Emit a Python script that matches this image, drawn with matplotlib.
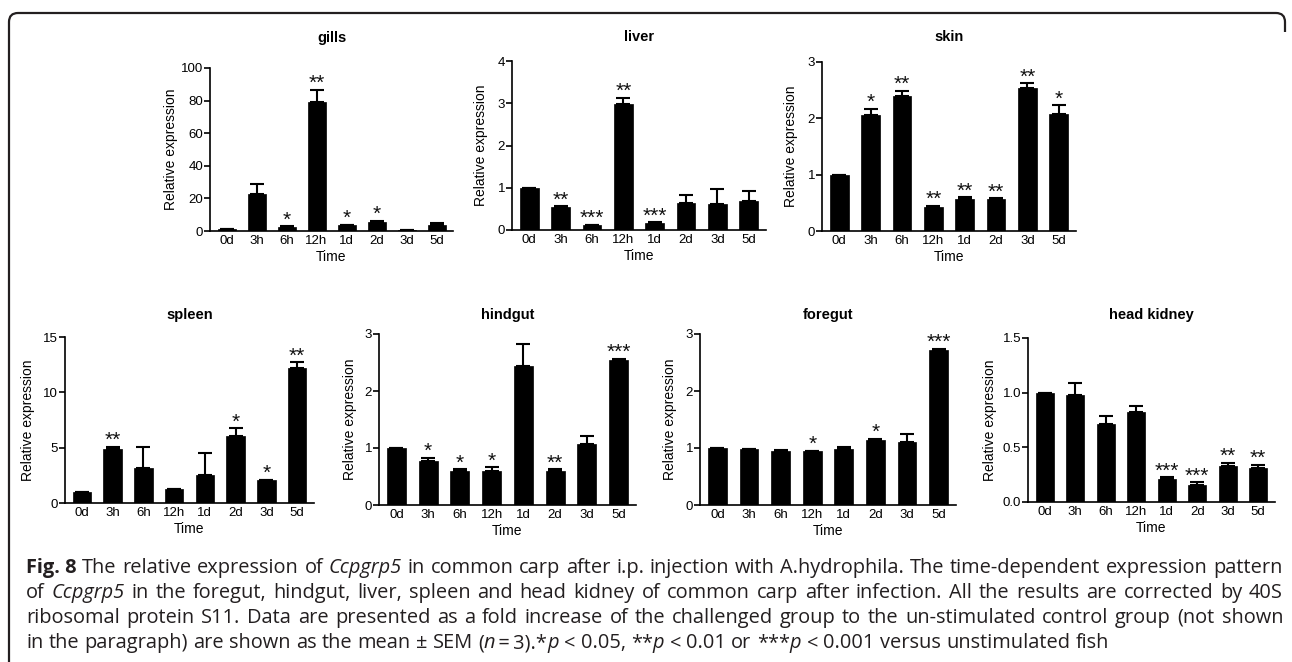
import matplotlib
matplotlib.use("Agg")
import matplotlib.pyplot as plt
from matplotlib import font_manager
from matplotlib.path import Path
from matplotlib.patches import PathPatch
from matplotlib.transforms import IdentityTransform

W, H, DPI = 1292, 662, 100

# ---------------- data ----------------
time_labels = ["0d", "3h", "6h", "12h", "1d", "2d", "3d", "5d"]

gills_mean = [1.0, 22.5, 2.7, 79.3, 3.5, 5.7, 0.6, 3.7]
gills_sem = [0.0, 6.2, 0.3, 7.2, 0.2, 0.6, 0.0, 1.0]
gills_sig = ["", "", "*", "**", "*", "*", "", ""]
gills_ticks = [0, 20, 40, 60, 80, 100]

liver_mean = [1.0, 0.54, 0.11, 2.98, 0.16, 0.64, 0.61, 0.69]
liver_sem = [0.0, 0.02, 0.01, 0.15, 0.02, 0.19, 0.37, 0.24]
liver_sig = ["", "**", "***", "**", "***", "", "", ""]
liver_ticks = [0, 1, 2, 3, 4]

skin_mean = [1.0, 2.06, 2.40, 0.43, 0.57, 0.56, 2.53, 2.07]
skin_sem = [0.0, 0.11, 0.09, 0.02, 0.03, 0.02, 0.09, 0.16]
skin_sig = ["", "*", "**", "**", "**", "**", "**", "*"]
skin_ticks = [0, 1, 2, 3]

spleen_mean = [1.0, 4.87, 3.18, 1.24, 2.50, 6.05, 2.06, 12.19]
spleen_sem = [0.0, 0.21, 1.90, 0.06, 1.98, 0.69, 0.06, 0.54]
spleen_sig = ["", "**", "", "", "", "*", "*", "**"]
spleen_ticks = [0, 5, 10, 15]

hindgut_mean = [1.0, 0.78, 0.59, 0.59, 2.44, 0.60, 1.07, 2.55]
hindgut_sem = [0.0, 0.05, 0.04, 0.07, 0.39, 0.03, 0.14, 0.02]
hindgut_sig = ["", "*", "*", "*", "", "**", "", "***"]
hindgut_ticks = [0, 1, 2, 3]

foregut_mean = [1.0, 0.98, 0.95, 0.94, 0.99, 1.14, 1.11, 2.72]
foregut_sem = [0.0, 0.0, 0.01, 0.01, 0.02, 0.02, 0.13, 0.02]
foregut_sig = ["", "", "", "*", "", "*", "", "***"]
foregut_ticks = [0, 1, 2, 3]

kidney_mean = [1.0, 0.98, 0.71, 0.82, 0.21, 0.16, 0.33, 0.31]
kidney_sem = [0.0, 0.11, 0.08, 0.055, 0.015, 0.02, 0.03, 0.03]
kidney_sig = ["", "", "", "", "***", "***", "**", "**"]
kidney_ticks = [0.0, 0.5, 1.0, 1.5]

panel_titles = ["gills", "liver", "skin", "spleen", "hindgut", "foregut", "head kidney"]

# ---------------- fonts ----------------
avail = {f.name for f in font_manager.fontManager.ttflist}
AX_FONT = "Liberation Sans Narrow" if "Liberation Sans Narrow" in avail else "Liberation Sans"
CAP_FONT = "Open Sans" if "Open Sans" in avail else "DejaVu Sans"

fig = plt.figure(figsize=(W / DPI, H / DPI), dpi=DPI)
fig.patch.set_facecolor("white")

# pixel boxes: left, right, top, bottom, ylabel offset, title y
boxes = [
    (210, 453, 68, 231, 32, 38),
    (512, 766, 61, 230, 24, 37),
    (822, 1076, 62, 231, 24, 37),
    (65, 314, 337, 503, 30, 315),
    (379, 636, 334, 505, 22, 315),
    (700, 956, 334, 505, 23, 315),
    (1028, 1275, 338, 502, 31, 315),
]

panels = [
    (gills_mean, gills_sem, gills_sig, gills_ticks, "{:g}"),
    (liver_mean, liver_sem, liver_sig, liver_ticks, "{:g}"),
    (skin_mean, skin_sem, skin_sig, skin_ticks, "{:g}"),
    (spleen_mean, spleen_sem, spleen_sig, spleen_ticks, "{:g}"),
    (hindgut_mean, hindgut_sem, hindgut_sig, hindgut_ticks, "{:g}"),
    (foregut_mean, foregut_sem, foregut_sig, foregut_ticks, "{:g}"),
    (kidney_mean, kidney_sem, kidney_sig, kidney_ticks, "{:.1f}"),
]

for (mean, sem, sig, ticks, fmt), (l, r, t, b, yoff, ty), title in zip(panels, boxes, panel_titles):
    ax = fig.add_axes([l / W, (H - b) / H, (r - l) / W, (b - t) / H])
    x = list(range(len(time_labels)))
    ax.bar(x, mean, width=0.6, color="black", edgecolor="black", linewidth=0.5, zorder=2)
    ax.errorbar(x, mean, yerr=[[0] * len(sem), sem], fmt="none", ecolor="black",
                elinewidth=1.5, capsize=5, capthick=1.5, zorder=3)
    for xi, m, s, lab in zip(x, mean, sem, sig):
        if lab:
            ax.annotate(lab, (xi, m + s), xytext=(0, 0.5), textcoords="offset points",
                        ha="center", va="baseline", fontsize=15, family="Liberation Sans",
                        color="#111111")
    ax.set_xlim(-0.55, len(x) - 0.45)
    ax.set_ylim(ticks[0], ticks[-1])
    ax.set_yticks(ticks)
    ax.set_yticklabels([fmt.format(v) for v in ticks], family=AX_FONT, fontsize=9.5)
    ax.set_xticks(x)
    ax.set_xticklabels(time_labels, family=AX_FONT, fontsize=9.5)
    for side in ("top", "right"):
        ax.spines[side].set_visible(False)
    for side in ("left", "bottom"):
        ax.spines[side].set_linewidth(1.2)
    ax.spines["left"].set_bounds(ticks[0], ticks[-1])
    ax.tick_params(axis="y", direction="out", length=4, width=1.2, pad=1)
    ax.tick_params(axis="x", direction="out", length=0, width=1.2, pad=3)
    ax.set_xlabel("Time", family=AX_FONT, fontsize=10, labelpad=2)
    ax.set_ylabel("Relative expression", family=AX_FONT, fontsize=10)
    ax.yaxis.set_label_coords(-yoff / (r - l), 0.5)
    ax.patch.set_alpha(0)
    fig.text((l + r) / 2 / W, (H - ty) / H, title, ha="center", va="center",
             family=AX_FONT, fontsize=10.5, fontweight="bold")

# ---------------- frame ----------------
def P(x, y):
    return (x, H - y)

verts = [P(9, H + 2), P(9, 22), P(9, 13), P(18, 13), P(1276, 13), P(1285, 13), P(1285, 22), P(1285, 32)]
codes = [Path.MOVETO, Path.LINETO, Path.CURVE3, Path.CURVE3, Path.LINETO, Path.CURVE3, Path.CURVE3, Path.LINETO]
fig.add_artist(PathPatch(Path(verts, codes), transform=IdentityTransform(), fill=False,
                         edgecolor="#231f20", linewidth=1.6))

# ---------------- caption ----------------
cap_lines = [
    [[("Fig. 8", "b")], [("The", "n")], [("relative", "n")], [("expression", "n")], [("of", "n")],
     [("Ccpgrp5", "i")]] + [[(w, "n")] for w in
     "in common carp after i.p. injection with A.hydrophila. The time-dependent expression pattern".split()],
    [[("of", "n")], [("Ccpgrp5", "i")]] + [[(w, "n")] for w in
     "in the foregut, hindgut, liver, spleen and head kidney of common carp after infection. All the results are corrected by 40S".split()],
    [[(w, "n")] for w in
     "ribosomal protein S11. Data are presented as a fold increase of the challenged group to the un-stimulated control group (not shown".split()],
    [[(w, "n")] for w in "in the paragraph) are shown as the mean ± SEM".split()]
    + [[("(", "n"), ("n", "i"), ("\u2009=\u20093).*", "n"), ("p", "i")], [("<", "n")], [("0.05,", "n")],
       [("**", "n"), ("p", "i")], [("<", "n")], [("0.01", "n")], [("or", "n")],
       [("***", "n"), ("p", "i")], [("<", "n")], [("0.001", "n")]]
    + [[(w, "n")] for w in "versus unstimulated fish".split()],
]
justify = [True, True, True, False]
baselines = [573, 598, 623, 648]
X0, X1 = 26, 1283

renderer = fig.canvas.get_renderer()


def style(st, fs):
    d = dict(family=[CAP_FONT, "DejaVu Sans"], fontsize=fs, color="#231f20")
    if st == "b":
        d["fontweight"] = "bold"
    if st == "i":
        d["fontstyle"] = "italic"
    return d


def run_width(txt, st, fs):
    t = fig.text(0, 0, txt, **style(st, fs))
    w = t.get_window_extent(renderer).width
    t.remove()
    return w


def word_width(word, fs):
    return sum(run_width(txt, st, fs) for txt, st in word)


def space_width(fs):
    return run_width("a a", "n", fs) - run_width("aa", "n", fs)


# fit the font size so the first line fills the text width with near-normal spacing
fs0 = 13.0
nat = sum(word_width(wd, fs0) for wd in cap_lines[0]) + space_width(fs0) * (len(cap_lines[0]) - 1)
FS = fs0 * 1245.0 / nat

for words, just, base in zip(cap_lines, justify, baselines):
    widths = [word_width(wd, FS) for wd in words]
    if just:
        gap = (X1 - X0 - sum(widths)) / (len(words) - 1)
    else:
        gap = space_width(FS)
    x = X0
    for wd, ww in zip(words, widths):
        xx = x
        for txt, st in wd:
            fig.text(xx, H - base, txt, transform=IdentityTransform(), ha="left", va="baseline",
                     **style(st, FS))
            xx += run_width(txt, st, FS)
        x += ww + gap

fig.savefig("out.png", dpi=DPI)
